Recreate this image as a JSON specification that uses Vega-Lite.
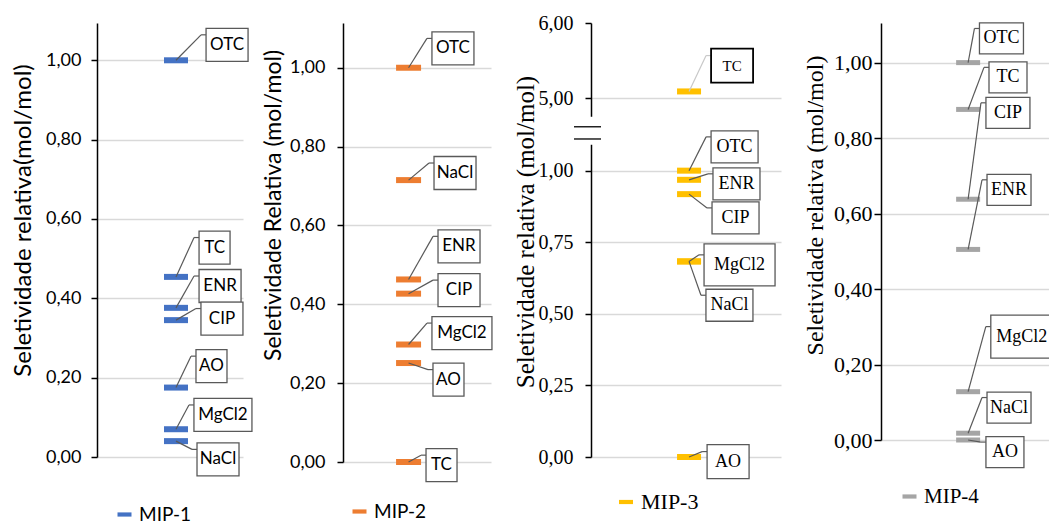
{
"$schema": "https://vega.github.io/schema/vega-lite/v6.json",
"background": "white",
"padding": {"left": 11, "top": 13, "right": 0, "bottom": 0},
"spacing": 100,
"bounds": "flush",
"datasets": {"sel": [
{"panel":"MIP-1","compound":"OTC","value":1.0,"lx":0.747,"ly":1.039},
{"panel":"MIP-1","compound":"TC","value":0.454,"lx":0.699,"ly":0.528},
{"panel":"MIP-1","compound":"ENR","value":0.376,"lx":0.699,"ly":0.431},
{"panel":"MIP-1","compound":"CIP","value":0.345,"lx":0.712,"ly":0.349},
{"panel":"MIP-1","compound":"AO","value":0.175,"lx":0.678,"ly":0.229},
{"panel":"MIP-1","compound":"MgCl2","value":0.07,"lx":0.664,"ly":0.106},
{"panel":"MIP-1","compound":"NaCl","value":0.04,"lx":0.685,"ly":-0.006},
{"panel":"MIP-2","compound":"OTC","value":1.0,"lx":0.601,"ly":1.049},
{"panel":"MIP-2","compound":"NaCl","value":0.715,"lx":0.615,"ly":0.733},
{"panel":"MIP-2","compound":"ENR","value":0.463,"lx":0.642,"ly":0.547},
{"panel":"MIP-2","compound":"CIP","value":0.427,"lx":0.642,"ly":0.436},
{"panel":"MIP-2","compound":"MgCl2","value":0.298,"lx":0.601,"ly":0.327},
{"panel":"MIP-2","compound":"AO","value":0.251,"lx":0.608,"ly":0.209},
{"panel":"MIP-2","compound":"TC","value":0.0,"lx":0.561,"ly":-0.008},
{"panel":"MIP-3","compound":"TC","value":5.09,"lx":0.632,"ly":5.434},
{"panel":"MIP-3","compound":"OTC","value":1.0,"lx":0.632,"ly":1.083},
{"panel":"MIP-3","compound":"ENR","value":0.968,"lx":0.642,"ly":0.954},
{"panel":"MIP-3","compound":"CIP","value":0.918,"lx":0.637,"ly":0.835},
{"panel":"MIP-3","compound":"MgCl2","value":0.683,"lx":0.595,"ly":0.671},
{"panel":"MIP-3","compound":"NaCl","value":0.683,"lx":0.605,"ly":0.53},
{"panel":"MIP-3","compound":"AO","value":0.0,"lx":0.611,"ly":-0.016},
{"panel":"MIP-4","compound":"OTC","value":1.0,"lx":0.547,"ly":1.064},
{"panel":"MIP-4","compound":"TC","value":0.876,"lx":0.6,"ly":0.961},
{"panel":"MIP-4","compound":"CIP","value":0.638,"lx":0.583,"ly":0.867},
{"panel":"MIP-4","compound":"ENR","value":0.505,"lx":0.589,"ly":0.663},
{"panel":"MIP-4","compound":"MgCl2","value":0.128,"lx":0.61,"ly":0.274},
{"panel":"MIP-4","compound":"NaCl","value":0.018,"lx":0.589,"ly":0.086},
{"panel":"MIP-4","compound":"AO","value":0.0,"lx":0.583,"ly":-0.032}
]},
"hconcat": [
{
"width": 146, "height": 434,
"data": {"name": "sel"},
"transform": [{"filter": "datum.panel === 'MIP-1'"}],
"layer": [
{"mark": {"type": "tick", "orient": "horizontal", "thickness": 6, "opacity": 1},
 "encoding": {
  "x": {"datum": 0.541, "type": "quantitative", "scale": {"domain": [0, 1], "nice": false, "zero": false}, "axis": null},
  "y": {"field": "value", "type": "quantitative", "scale": {"domain": [0, 1.094], "nice": false, "zero": false},
        "axis": {"title": "Seletividade relativa(mol/mol)", "values": [0, 0.2, 0.4, 0.6, 0.8, 1], "labelExpr": "replace(format(datum.value, '.2f'), '.', ',')",
                 "grid": true, "gridColor": "#D9D9D9", "gridWidth": 1.3, "domainColor": "#000", "domainWidth": 1.5, "tickColor": "#000", "tickSize": 6, "tickWidth": 1.5,
                 "labelFont": "Lato", "labelFontSize": 18, "labelColor": "#000", "labelPadding": 10,
                 "titleFont": "Lato", "titleFontSize": 24, "titleFontWeight": "normal", "titleColor": "#000",
                 "titleX": -73.5, "titleY": 197, "titleBaseline": "middle", "titleAngle": 270, "titleAlign": "center"}},
  "size": {"value": 24},
  "color": {"field": "panel", "type": "nominal", "scale": {"domain": ["MIP-1"], "range": ["#4472C4"]},
            "legend": {"orient": "none", "legendX": 18, "legendY": 482, "title": null, "symbolType": "M-1,-0.3H1V0.3H-1Z", "symbolSize": 196, "symbolStrokeWidth": 0, "symbolOpacity": 1,
                       "labelFont": "Lato", "labelFontSize": 19, "labelColor": "#000", "labelOffset": 5, "padding": 0}}
 }},
{"mark": {"type": "rule", "color": "#595959", "strokeWidth": 1.2, "xOffset": -5, "yOffset": -10},
 "encoding": {"x": {"field": "lx", "type": "quantitative"}, "x2": {"datum": 0.541}, "y": {"field": "ly", "type": "quantitative"}, "y2": {"field": "value"}}},
{"mark": {"type": "rule", "color": "#595959", "strokeWidth": 1.2, "xOffset": -5, "yOffset": -10, "y2Offset": -10},
 "encoding": {"x": {"field": "lx", "type": "quantitative"}, "x2": {"field": "lx"}, "y": {"field": "ly", "type": "quantitative"}, "y2": {"field": "ly"}}},
{"transform": [{"filter": "length(datum.compound) <= 2"}],
 "layer": [
  {"mark": {"type": "rect", "fill": "#fff", "stroke": "#595959", "strokeWidth": 1.3, "x2Offset": 31, "yOffset": -16.5, "y2Offset": 16.5},
   "encoding": {"x": {"field": "lx", "type": "quantitative"}, "x2": {"field": "lx"}, "y": {"field": "ly", "type": "quantitative"}, "y2": {"field": "ly"}}},
  {"mark": {"type": "text", "dx": 15.5, "align": "center", "baseline": "middle", "font": "Lato", "fontSize": 17, "color": "#000"},
   "encoding": {"x": {"field": "lx", "type": "quantitative"}, "y": {"field": "ly", "type": "quantitative"}, "text": {"field": "compound", "type": "nominal"}}}
 ]},
{"transform": [{"filter": "length(datum.compound) >= 3 && length(datum.compound) <= 4"}],
 "layer": [
  {"mark": {"type": "rect", "fill": "#fff", "stroke": "#595959", "strokeWidth": 1.3, "x2Offset": 42, "yOffset": -16.5, "y2Offset": 16.5},
   "encoding": {"x": {"field": "lx", "type": "quantitative"}, "x2": {"field": "lx"}, "y": {"field": "ly", "type": "quantitative"}, "y2": {"field": "ly"}}},
  {"mark": {"type": "text", "dx": 21, "align": "center", "baseline": "middle", "font": "Lato", "fontSize": 17, "color": "#000"},
   "encoding": {"x": {"field": "lx", "type": "quantitative"}, "y": {"field": "ly", "type": "quantitative"}, "text": {"field": "compound", "type": "nominal"}}}
 ]},
{"transform": [{"filter": "length(datum.compound) >= 5"}],
 "layer": [
  {"mark": {"type": "rect", "fill": "#fff", "stroke": "#595959", "strokeWidth": 1.3, "x2Offset": 58, "yOffset": -16.5, "y2Offset": 16.5},
   "encoding": {"x": {"field": "lx", "type": "quantitative"}, "x2": {"field": "lx"}, "y": {"field": "ly", "type": "quantitative"}, "y2": {"field": "ly"}}},
  {"mark": {"type": "text", "dx": 29, "align": "center", "baseline": "middle", "font": "Lato", "fontSize": 17, "color": "#000"},
   "encoding": {"x": {"field": "lx", "type": "quantitative"}, "y": {"field": "ly", "type": "quantitative"}, "text": {"field": "compound", "type": "nominal"}}}
 ]}
]
},
{
"width": 148, "height": 439,
"data": {"name": "sel"},
"transform": [{"filter": "datum.panel === 'MIP-2'"}],
"layer": [
{"mark": {"type": "tick", "orient": "horizontal", "thickness": 6, "opacity": 1},
 "encoding": {
  "x": {"datum": 0.443, "type": "quantitative", "scale": {"domain": [0, 1], "nice": false, "zero": false}, "axis": null},
  "y": {"field": "value", "type": "quantitative", "scale": {"domain": [0, 1.1135], "nice": false, "zero": false},
        "axis": {"title": "Seletividade Relativa (mol/mol)", "values": [0, 0.2, 0.4, 0.6, 0.8, 1], "labelExpr": "replace(format(datum.value, '.2f'), '.', ',')",
                 "grid": true, "gridColor": "#D9D9D9", "gridWidth": 1.3, "domainColor": "#000", "domainWidth": 1.5, "tickColor": "#000", "tickSize": 6, "tickWidth": 1.5,
                 "labelFont": "Lato", "labelFontSize": 18, "labelColor": "#000", "labelPadding": 12,
                 "titleFont": "Lato", "titleFontSize": 23, "titleFontWeight": "normal", "titleColor": "#000",
                 "titleX": -70, "titleY": 182, "titleBaseline": "middle", "titleAngle": 270, "titleAlign": "center"}},
  "size": {"value": 25},
  "color": {"field": "panel", "type": "nominal", "scale": {"domain": ["MIP-2"], "range": ["#ED7D31"]},
            "legend": {"orient": "none", "legendX": 7, "legendY": 479, "title": null, "symbolType": "M-1,-0.3H1V0.3H-1Z", "symbolSize": 196, "symbolStrokeWidth": 0, "symbolOpacity": 1,
                       "labelFont": "Lato", "labelFontSize": 19, "labelColor": "#000", "labelOffset": 5, "padding": 0}}
 }},
{"mark": {"type": "rule", "color": "#595959", "strokeWidth": 1.2, "xOffset": -5, "yOffset": -10},
 "encoding": {"x": {"field": "lx", "type": "quantitative"}, "x2": {"datum": 0.443}, "y": {"field": "ly", "type": "quantitative"}, "y2": {"field": "value"}}},
{"mark": {"type": "rule", "color": "#595959", "strokeWidth": 1.2, "xOffset": -5, "yOffset": -10, "y2Offset": -10},
 "encoding": {"x": {"field": "lx", "type": "quantitative"}, "x2": {"field": "lx"}, "y": {"field": "ly", "type": "quantitative"}, "y2": {"field": "ly"}}},
{"transform": [{"filter": "length(datum.compound) <= 2"}],
 "layer": [
  {"mark": {"type": "rect", "fill": "#fff", "stroke": "#595959", "strokeWidth": 1.3, "x2Offset": 31, "yOffset": -16.5, "y2Offset": 16.5},
   "encoding": {"x": {"field": "lx", "type": "quantitative"}, "x2": {"field": "lx"}, "y": {"field": "ly", "type": "quantitative"}, "y2": {"field": "ly"}}},
  {"mark": {"type": "text", "dx": 15.5, "align": "center", "baseline": "middle", "font": "Lato", "fontSize": 17, "color": "#000"},
   "encoding": {"x": {"field": "lx", "type": "quantitative"}, "y": {"field": "ly", "type": "quantitative"}, "text": {"field": "compound", "type": "nominal"}}}
 ]},
{"transform": [{"filter": "length(datum.compound) >= 3 && length(datum.compound) <= 4"}],
 "layer": [
  {"mark": {"type": "rect", "fill": "#fff", "stroke": "#595959", "strokeWidth": 1.3, "x2Offset": 42, "yOffset": -16.5, "y2Offset": 16.5},
   "encoding": {"x": {"field": "lx", "type": "quantitative"}, "x2": {"field": "lx"}, "y": {"field": "ly", "type": "quantitative"}, "y2": {"field": "ly"}}},
  {"mark": {"type": "text", "dx": 21, "align": "center", "baseline": "middle", "font": "Lato", "fontSize": 17, "color": "#000"},
   "encoding": {"x": {"field": "lx", "type": "quantitative"}, "y": {"field": "ly", "type": "quantitative"}, "text": {"field": "compound", "type": "nominal"}}}
 ]},
{"transform": [{"filter": "length(datum.compound) >= 5"}],
 "layer": [
  {"mark": {"type": "rect", "fill": "#fff", "stroke": "#595959", "strokeWidth": 1.3, "x2Offset": 60, "yOffset": -16.5, "y2Offset": 16.5},
   "encoding": {"x": {"field": "lx", "type": "quantitative"}, "x2": {"field": "lx"}, "y": {"field": "ly", "type": "quantitative"}, "y2": {"field": "ly"}}},
  {"mark": {"type": "text", "dx": 30, "align": "center", "baseline": "middle", "font": "Lato", "fontSize": 17, "color": "#000"},
   "encoding": {"x": {"field": "lx", "type": "quantitative"}, "y": {"field": "ly", "type": "quantitative"}, "text": {"field": "compound", "type": "nominal"}}}
 ]}
]
},
{
"width": 190, "height": 434,
"data": {"name": "sel"},
"transform": [{"filter": "datum.panel === 'MIP-3'"}],
"layer": [
{"mark": {"type": "tick", "orient": "horizontal", "thickness": 6, "opacity": 1},
 "encoding": {
  "x": {"datum": 0.516, "type": "quantitative", "scale": {"domain": [0, 1], "nice": false, "zero": false}, "axis": null},
  "y": {"field": "value", "type": "quantitative", "scale": {"domain": [0, 1.128, 4.524, 6], "range": [434, 111, 111, 0], "nice": false, "zero": false},
        "axis": {"title": "Seletividade relativa (mol/mol)", "values": [0, 0.25, 0.5, 0.75, 1, 5, 6], "labelExpr": "replace(format(datum.value, '.2f'), '.', ',')",
                 "grid": true, "gridColor": "#D9D9D9", "gridWidth": 1.3, "gridOpacity": {"condition": {"test": "datum.value === 6", "value": 0}, "value": 1},
                 "domainColor": "#000", "domainWidth": 1.5, "tickColor": "#000", "tickSize": 6, "tickWidth": 1.5,
                 "labelFont": "Liberation Serif", "labelFontSize": 20, "labelColor": "#000", "labelPadding": 12,
                 "titleFont": "Liberation Serif", "titleFontSize": 25, "titleFontWeight": "normal", "titleColor": "#000",
                 "titleX": -66, "titleY": 208.5, "titleBaseline": "middle", "titleAngle": 270, "titleAlign": "center"}},
  "size": {"value": 24},
  "color": {"field": "panel", "type": "nominal", "scale": {"domain": ["MIP-3"], "range": ["#FFC000"]},
            "legend": {"orient": "none", "legendX": 24, "legendY": 468, "title": null, "symbolType": "M-1,-0.3H1V0.3H-1Z", "symbolSize": 196, "symbolStrokeWidth": 0, "symbolOpacity": 1,
                       "labelFont": "Liberation Serif", "labelFontSize": 22, "labelColor": "#000", "labelOffset": 4, "padding": 0}}
 }},
{"data": {"values": [{"k": 1}]},
 "mark": {"type": "tick", "orient": "vertical", "color": "#fff", "thickness": 6, "opacity": 1},
 "encoding": {"x": {"datum": 0.0001, "type": "quantitative"}, "y": {"datum": 4.567, "type": "quantitative"}, "size": {"value": 28}}},
{"data": {"values": [{"k": 1}]},
 "mark": {"type": "tick", "orient": "horizontal", "color": "#000", "thickness": 1.3, "opacity": 1},
 "encoding": {"x": {"datum": -0.0184, "type": "quantitative"}, "y": {"datum": 4.62, "type": "quantitative"}, "size": {"value": 27}}},
{"data": {"values": [{"k": 1}]},
 "mark": {"type": "tick", "orient": "horizontal", "color": "#000", "thickness": 1.3, "opacity": 1},
 "encoding": {"x": {"datum": -0.0184, "type": "quantitative"}, "y": {"datum": 1.1106, "type": "quantitative"}, "size": {"value": 27}}},
{"mark": {"type": "rule", "strokeWidth": 1.2, "xOffset": -5, "yOffset": -10},
 "encoding": {"x": {"field": "lx", "type": "quantitative"}, "x2": {"datum": 0.516}, "y": {"field": "ly", "type": "quantitative"}, "y2": {"field": "value"},
              "stroke": {"condition": {"test": "datum.compound === 'TC'", "value": "#C8C8C8"}, "value": "#595959"}}},
{"mark": {"type": "rule", "strokeWidth": 1.2, "xOffset": -5, "yOffset": -10, "y2Offset": -10},
 "encoding": {"x": {"field": "lx", "type": "quantitative"}, "x2": {"field": "lx"}, "y": {"field": "ly", "type": "quantitative"}, "y2": {"field": "ly"},
              "stroke": {"condition": {"test": "datum.compound === 'TC'", "value": "#C8C8C8"}, "value": "#595959"}}},
{"transform": [{"filter": "length(datum.compound) <= 2"}],
 "layer": [
  {"mark": {"type": "rect", "fill": "#fff", "x2Offset": 42, "yOffset": -17, "y2Offset": 17},
   "encoding": {"x": {"field": "lx", "type": "quantitative"}, "x2": {"field": "lx"}, "y": {"field": "ly", "type": "quantitative"}, "y2": {"field": "ly"},
                "stroke": {"condition": {"test": "datum.compound === 'TC'", "value": "#000"}, "value": "#595959"},
                "strokeWidth": {"condition": {"test": "datum.compound === 'TC'", "value": 1.8}, "value": 1.3}}},
  {"mark": {"type": "text", "dx": 21, "align": "center", "baseline": "middle", "font": "Liberation Serif", "color": "#000"},
   "encoding": {"x": {"field": "lx", "type": "quantitative"}, "y": {"field": "ly", "type": "quantitative"}, "text": {"field": "compound", "type": "nominal"},
                "size": {"condition": {"test": "datum.compound === 'TC'", "value": 15}, "value": 18}}}
 ]},
{"transform": [{"filter": "length(datum.compound) >= 3 && length(datum.compound) <= 4"}],
 "layer": [
  {"mark": {"type": "rect", "fill": "#fff", "stroke": "#595959", "strokeWidth": 1.3, "x2Offset": 47, "yOffset": -16, "y2Offset": 16},
   "encoding": {"x": {"field": "lx", "type": "quantitative"}, "x2": {"field": "lx"}, "y": {"field": "ly", "type": "quantitative"}, "y2": {"field": "ly"}}},
  {"mark": {"type": "text", "dx": 23.5, "align": "center", "baseline": "middle", "font": "Liberation Serif", "fontSize": 18, "color": "#000"},
   "encoding": {"x": {"field": "lx", "type": "quantitative"}, "y": {"field": "ly", "type": "quantitative"}, "text": {"field": "compound", "type": "nominal"}}}
 ]},
{"transform": [{"filter": "length(datum.compound) >= 5"}],
 "layer": [
  {"mark": {"type": "rect", "fill": "#fff", "stroke": "#595959", "strokeWidth": 1.3, "x2Offset": 71, "yOffset": -21, "y2Offset": 21},
   "encoding": {"x": {"field": "lx", "type": "quantitative"}, "x2": {"field": "lx"}, "y": {"field": "ly", "type": "quantitative"}, "y2": {"field": "ly"}}},
  {"mark": {"type": "text", "dx": 35.5, "align": "center", "baseline": "middle", "font": "Liberation Serif", "fontSize": 18, "color": "#000"},
   "encoding": {"x": {"field": "lx", "type": "quantitative"}, "y": {"field": "ly", "type": "quantitative"}, "text": {"field": "compound", "type": "nominal"}}}
 ]}
]
},
{
"width": 180, "height": 417,
"data": {"name": "sel"},
"transform": [{"filter": "datum.panel === 'MIP-4'"}],
"layer": [
{"mark": {"type": "tick", "orient": "horizontal", "thickness": 5, "opacity": 1},
 "encoding": {
  "x": {"datum": 0.484, "type": "quantitative", "scale": {"domain": [0, 1], "nice": false, "zero": false}, "axis": null},
  "y": {"field": "value", "type": "quantitative", "scale": {"domain": [0, 1.105], "nice": false, "zero": false},
        "axis": {"title": "Seletividade relativa (mol/mol)", "values": [0, 0.2, 0.4, 0.6, 0.8, 1], "labelExpr": "replace(format(datum.value, '.2f'), '.', ',')",
                 "grid": true, "gridColor": "#D9D9D9", "gridWidth": 1.3, "domainColor": "#000", "domainWidth": 1.5, "tickColor": "#000", "tickSize": 7, "tickWidth": 1.5,
                 "labelFont": "Liberation Serif", "labelFontSize": 22, "labelColor": "#000", "labelPadding": 2,
                 "titleFont": "Liberation Serif", "titleFontSize": 24, "titleFontWeight": "normal", "titleColor": "#000",
                 "titleX": -66, "titleY": 182, "titleBaseline": "middle", "titleAngle": 270, "titleAlign": "center"}},
  "size": {"value": 24},
  "color": {"field": "panel", "type": "nominal", "scale": {"domain": ["MIP-4"], "range": ["#A5A5A5"]},
            "legend": {"orient": "none", "legendX": 18, "legendY": 463, "title": null, "symbolType": "M-1,-0.3H1V0.3H-1Z", "symbolSize": 196, "symbolStrokeWidth": 0, "symbolOpacity": 1,
                       "labelFont": "Liberation Serif", "labelFontSize": 21, "labelColor": "#000", "labelOffset": 4, "padding": 0}}
 }},
{"mark": {"type": "rule", "color": "#595959", "strokeWidth": 1.2, "xOffset": -5, "yOffset": -10},
 "encoding": {"x": {"field": "lx", "type": "quantitative"}, "x2": {"datum": 0.484}, "y": {"field": "ly", "type": "quantitative"}, "y2": {"field": "value"}}},
{"mark": {"type": "rule", "color": "#595959", "strokeWidth": 1.2, "xOffset": -5, "yOffset": -10, "y2Offset": -10},
 "encoding": {"x": {"field": "lx", "type": "quantitative"}, "x2": {"field": "lx"}, "y": {"field": "ly", "type": "quantitative"}, "y2": {"field": "ly"}}},
{"transform": [{"filter": "length(datum.compound) <= 2"}],
 "layer": [
  {"mark": {"type": "rect", "fill": "#fff", "stroke": "#595959", "strokeWidth": 1.3, "x2Offset": 38, "yOffset": -15.5, "y2Offset": 15.5},
   "encoding": {"x": {"field": "lx", "type": "quantitative"}, "x2": {"field": "lx"}, "y": {"field": "ly", "type": "quantitative"}, "y2": {"field": "ly"}}},
  {"mark": {"type": "text", "dx": 19, "align": "center", "baseline": "middle", "font": "Liberation Serif", "fontSize": 18, "color": "#000"},
   "encoding": {"x": {"field": "lx", "type": "quantitative"}, "y": {"field": "ly", "type": "quantitative"}, "text": {"field": "compound", "type": "nominal"}}}
 ]},
{"transform": [{"filter": "length(datum.compound) >= 3 && length(datum.compound) <= 4"}],
 "layer": [
  {"mark": {"type": "rect", "fill": "#fff", "stroke": "#595959", "strokeWidth": 1.3, "x2Offset": 44, "yOffset": -15.5, "y2Offset": 15.5},
   "encoding": {"x": {"field": "lx", "type": "quantitative"}, "x2": {"field": "lx"}, "y": {"field": "ly", "type": "quantitative"}, "y2": {"field": "ly"}}},
  {"mark": {"type": "text", "dx": 22, "align": "center", "baseline": "middle", "font": "Liberation Serif", "fontSize": 18, "color": "#000"},
   "encoding": {"x": {"field": "lx", "type": "quantitative"}, "y": {"field": "ly", "type": "quantitative"}, "text": {"field": "compound", "type": "nominal"}}}
 ]},
{"transform": [{"filter": "length(datum.compound) >= 5"}],
 "layer": [
  {"mark": {"type": "rect", "fill": "#fff", "stroke": "#595959", "strokeWidth": 1.3, "x2Offset": 66, "yOffset": -21.5, "y2Offset": 21.5},
   "encoding": {"x": {"field": "lx", "type": "quantitative"}, "x2": {"field": "lx"}, "y": {"field": "ly", "type": "quantitative"}, "y2": {"field": "ly"}}},
  {"mark": {"type": "text", "dx": 31, "align": "center", "baseline": "middle", "font": "Liberation Serif", "fontSize": 18, "color": "#000"},
   "encoding": {"x": {"field": "lx", "type": "quantitative"}, "y": {"field": "ly", "type": "quantitative"}, "text": {"field": "compound", "type": "nominal"}}}
 ]}
]
}
],
"resolve": {"scale": {"color": "independent", "x": "independent", "y": "independent"}, "legend": {"color": "independent"}},
"config": {"view": {"stroke": null}}
}
